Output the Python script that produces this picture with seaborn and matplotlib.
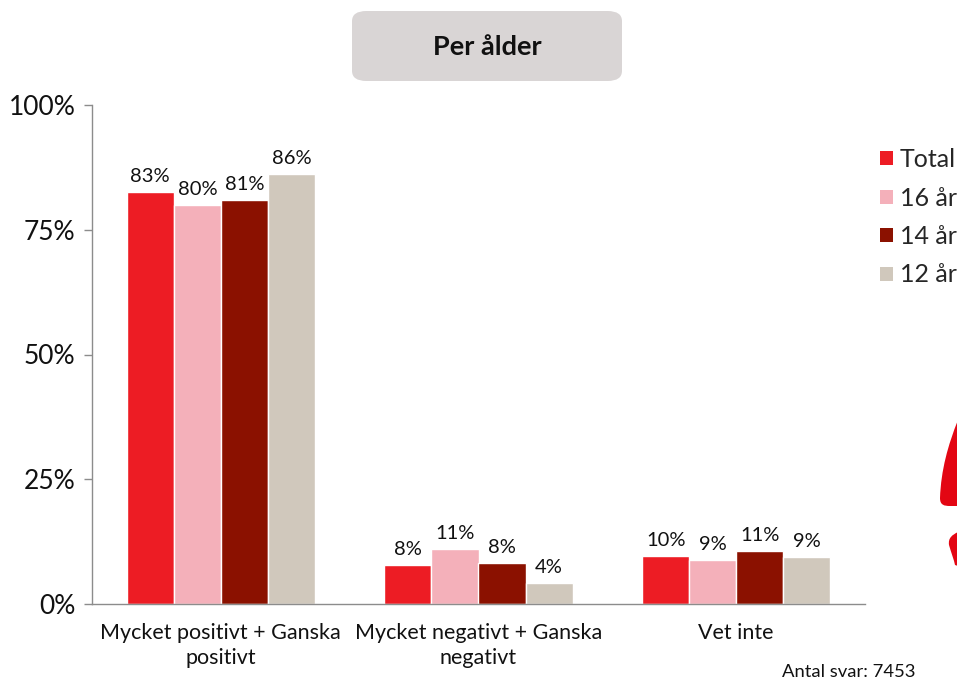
import matplotlib
matplotlib.use("Agg")
import matplotlib.pyplot as plt
from matplotlib.patches import FancyBboxPatch, PathPatch, Patch
from matplotlib.path import Path
import numpy as np
import pandas as pd
import seaborn as sns

categories = ["Mycket positivt + Ganska\npositivt", "Mycket negativt + Ganska\nnegativt", "Vet inte"]
groups = ["Total", "16 år", "14 år", "12 år"]
total = [82.6, 7.8, 9.6]
age16 = [80.0, 11.0, 8.8]
age14 = [81.0, 8.2, 10.6]
age12 = [86.2, 4.2, 9.4]
colors = ["#ED1C24", "#F4B0BA", "#8B1100", "#D0C8BC"]
yticks = [0, 25, 50, 75, 100]

series = [total, age16, age14, age12]
df = pd.DataFrame({
    "kategori": [c for s in series for c in categories],
    "grupp": [g for g, s in zip(groups, series) for _ in s],
    "andel": [v for s in series for v in s],
})

sns.set_theme(style="white")
plt.rcParams["font.family"] = ["Lato", "DejaVu Sans"]

W, H = 957, 682
fig = plt.figure(figsize=(W / 100, H / 100), dpi=100)
ax = fig.add_axes([92 / W, 1 - 604 / H, (865 - 92) / W, (604 - 105) / H])

sns.barplot(data=df, x="kategori", y="andel", hue="grupp", order=categories,
            hue_order=groups, palette=colors, width=0.73, saturation=1,
            legend=False, ax=ax)

for cont in ax.containers:
    ax.bar_label(cont, fmt="%.0f%%", padding=5, fontsize=14.5, color="#111111")

ax.set_xlim(-0.5, 2.5)
ax.set_ylim(0, 100)
ax.set_yticks(yticks)
ax.set_yticklabels([f"{t}%" for t in yticks], fontsize=19, color="#111111")
ax.set_xticks(range(len(categories)))
ax.set_xticklabels(categories, fontsize=15.5, color="#111111", linespacing=1.3)
ax.set_xticks([-0.5, 0.5, 1.5, 2.5], minor=True)
ax.tick_params(axis="x", which="major", length=0, pad=14)
ax.tick_params(axis="x", which="minor", length=6, width=1, color="#8C8C8C", direction="out")
ax.tick_params(axis="y", length=6, width=1, color="#8C8C8C", direction="out", pad=6, left=True)
ax.set_xlabel("")
ax.set_ylabel("")
for side in ["top", "right"]:
    ax.spines[side].set_visible(False)
for side in ["left", "bottom"]:
    ax.spines[side].set_color("#8C8C8C")
    ax.spines[side].set_linewidth(1)

# Legend
handles = [Patch(facecolor=c, edgecolor="none") for c in colors]
fig.legend(handles, groups, loc="upper left", bbox_to_anchor=(880 / W, 1 - 148 / H),
           frameon=False, fontsize=18, handlelength=0.5, handleheight=0.5,
           handletextpad=0.3, labelspacing=0.62, borderaxespad=0, borderpad=0)

# Title box
box = FancyBboxPatch((352 / W, 1 - 81 / H), (622 - 352) / W, (81 - 11) / H,
                     boxstyle="round,pad=0,rounding_size=0.015",
                     transform=fig.transFigure, facecolor="#D9D5D5", edgecolor="none")
fig.add_artist(box)
fig.text(487 / W, 1 - 47 / H, "Per ålder", ha="center", va="center",
         fontsize=19.5, fontweight="bold", color="#111111")

fig.text(915 / W, 1 - 672 / H, "Antal svar: 7453", ha="right", va="center",
         fontsize=13.3, color="#111111")

# Decorative red shapes at the right edge
def px(points):
    return [(x / W, 1 - y / H) for x, y in points]

top_shape = Path(px([(958, 420), (948, 445), (941, 470), (940, 498),
                     (940, 505), (944, 506), (950, 506), (958, 506), (958, 420)]),
                 [Path.MOVETO, Path.CURVE4, Path.CURVE4, Path.CURVE4,
                  Path.CURVE4, Path.CURVE4, Path.CURVE4, Path.LINETO, Path.CLOSEPOLY])
fig.add_artist(PathPatch(top_shape, transform=fig.transFigure,
                         facecolor="#E30613", edgecolor="none"))
bot_shape = Path(px([(958, 532), (952, 535), (948, 538), (949, 545),
                     (951, 552), (954, 560), (955, 565), (958, 566), (958, 532)]),
                 [Path.MOVETO, Path.CURVE4, Path.CURVE4, Path.CURVE4,
                  Path.CURVE4, Path.CURVE4, Path.CURVE4, Path.LINETO, Path.CLOSEPOLY])
fig.add_artist(PathPatch(bot_shape, transform=fig.transFigure,
                         facecolor="#E30613", edgecolor="none"))

fig.savefig("out.png", dpi=100, facecolor="white")
